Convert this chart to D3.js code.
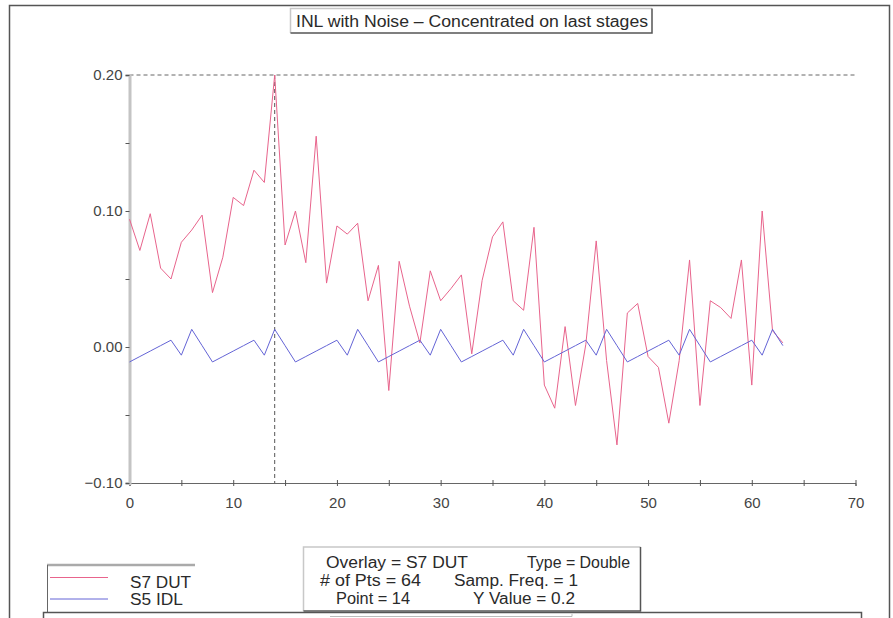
<!DOCTYPE html>
<html>
<head>
<meta charset="utf-8">
<script src="https://cdn.jsdelivr.net/npm/d3@7"></script>
<style>
  body { margin: 0; background: #fff; }
  svg { display: block; font-family: "Liberation Sans", Arial, sans-serif; }
</style>
</head>
<body>
<script>
// INL with noise, two overlaid traces (64 points each)
const pointIndex = d3.range(64);

const s7Dut = [
  0.094, 0.071, 0.098, 0.058, 0.050, 0.077, 0.086, 0.097,
  0.040, 0.066, 0.110, 0.104, 0.130, 0.121, 0.200, 0.075,
  0.100, 0.062, 0.155, 0.047, 0.089, 0.083, 0.091, 0.034,
  0.060, -0.032, 0.063, 0.030, 0.003, 0.056, 0.034, 0.043,
  0.053, -0.005, 0.049, 0.081, 0.092, 0.034, 0.027, 0.088,
  -0.028, -0.045, 0.015, -0.043, 0.002, 0.078, -0.010, -0.072,
  0.025, 0.032, -0.007, -0.015, -0.056, -0.010, 0.064, -0.043,
  0.034, 0.029, 0.021, 0.064, -0.028, 0.100, 0.012, 0.003
];

const s5Idl = [
  -0.011, -0.007, -0.003, 0.001, 0.005, -0.006, 0.013, 0.001,
  -0.011, -0.007, -0.003, 0.001, 0.005, -0.006, 0.013, 0.001,
  -0.011, -0.007, -0.003, 0.001, 0.005, -0.006, 0.013, 0.001,
  -0.011, -0.007, -0.003, 0.001, 0.005, -0.006, 0.013, 0.001,
  -0.011, -0.007, -0.003, 0.001, 0.005, -0.006, 0.013, 0.001,
  -0.011, -0.007, -0.003, 0.001, 0.005, -0.006, 0.013, 0.001,
  -0.011, -0.007, -0.003, 0.001, 0.005, -0.006, 0.013, 0.001,
  -0.011, -0.007, -0.003, 0.001, 0.005, -0.006, 0.013, 0.001
];

const xTicks = d3.range(0, 71, 5);
const yTicks = [-0.1, -0.05, 0, 0.05, 0.1, 0.15, 0.2];
const seriesNames = ["S7 DUT", "S5 IDL"];
const seriesColors = ["#e8648c", "#6464d6"];
const infoLeft = ["Overlay = S7 DUT", "# of Pts = 64", "Point = 14"];
const infoRight = ["Type = Double", "Samp. Freq. = 1", "Y Value = 0.2"];
const cursorX = 14, cursorY = 0.2;
const title = "INL with Noise \u2013 Concentrated on last stages";

const width = 893, height = 618;

const svg = d3.select("body").append("svg")
    .attr("width", width)
    .attr("height", height);

// outer frame
svg.append("rect")
    .attr("x", 9.5).attr("y", 5.5)
    .attr("width", 880).attr("height", 640)
    .attr("fill", "none").attr("stroke", "#555").attr("stroke-width", 1.5);

const x = d3.scaleLinear().domain([0, 70]).range([129.5, 855.5]);
const y = d3.scaleLinear().domain([-0.1, 0.2]).range([483, 75]);

// cursor lines
svg.append("line")
    .attr("x1", x(0)).attr("x2", x(70))
    .attr("y1", y(cursorY)).attr("y2", y(cursorY))
    .attr("stroke", "#666").attr("stroke-dasharray", "4,3");
svg.append("line")
    .attr("x1", x(cursorX)).attr("x2", x(cursorX))
    .attr("y1", y(0.2)).attr("y2", y(-0.1))
    .attr("stroke", "#555").attr("stroke-dasharray", "4,3");

// x axis: ticks crossing the line, labels every 10
const xAxis = svg.append("g")
    .attr("transform", `translate(0,${y(-0.1)})`)
    .call(d3.axisBottom(x).tickValues(xTicks).tickSize(3).tickPadding(11)
        .tickFormat(d => d % 10 === 0 ? d : ""));
svg.append("g")
    .attr("transform", `translate(0,${y(-0.1)})`)
    .call(d3.axisTop(x).tickValues(xTicks).tickSize(3).tickFormat(""))
    .select(".domain").remove();

// y axis
const yAxis = svg.append("g")
    .attr("transform", `translate(${x(0)},0)`)
    .call(d3.axisLeft(y).tickValues(yTicks).tickSize(4).tickPadding(3)
        .tickFormat(d => Math.abs(d * 100) % 10 < 1e-6 ? d3.format(".2f")(d) : ""));
yAxis.select(".domain").attr("stroke", "#c4c4c4").attr("stroke-width", 3);

svg.selectAll(".tick line").attr("stroke", "#555");
xAxis.select(".domain").attr("stroke", "#666");
svg.selectAll(".tick text")
    .attr("fill", "#444")
    .style("font-size", "15px");

// traces
const line = d3.line()
    .x((d, i) => x(pointIndex[i]))
    .y(d => y(d));

[s7Dut, s5Idl].forEach((vals, k) => {
  svg.append("path")
      .datum(vals)
      .attr("d", line)
      .attr("fill", "none")
      .attr("stroke", seriesColors[k])
      .attr("stroke-width", 1)
      .attr("stroke-linejoin", "miter");
});

// 3d-looking box helper
function box(x0, y0, x1, y1) {
  const g = svg.append("g");
  g.append("rect").attr("x", x0).attr("y", y0)
      .attr("width", x1 - x0).attr("height", y1 - y0).attr("fill", "#fff");
  g.append("path").attr("d", `M${x0},${y1}V${y0}H${x1}`)
      .attr("fill", "none").attr("stroke", "#c8c8c8").attr("stroke-width", 1.5);
  g.append("path").attr("d", `M${x0},${y1}H${x1}V${y0}`)
      .attr("fill", "none").attr("stroke", "#555").attr("stroke-width", 1.5);
  return g;
}

function label(tx, ty, str, len) {
  return svg.append("text")
      .attr("x", tx).attr("y", ty)
      .attr("textLength", len)
      .attr("lengthAdjust", "spacingAndGlyphs")
      .attr("fill", "#2a2a2a")
      .style("font-size", "16px")
      .text(str);
}

// title
box(290.5, 8.5, 652, 33);
label(296, 27, title, 352);

// legend box
const leg = svg.append("g");
leg.append("line").attr("x1", 47).attr("x2", 195).attr("y1", 565).attr("y2", 565)
    .attr("stroke", "#aaa").attr("stroke-width", 2.5);
leg.append("line").attr("x1", 47.5).attr("x2", 47.5).attr("y1", 565).attr("y2", 618)
    .attr("stroke", "#666");
const legLineY = [577.5, 599];
const legTextY = [588, 605];
const legTextW = [61, 53];
seriesNames.forEach((name, k) => {
  leg.append("line").attr("x1", 50).attr("x2", 108)
      .attr("y1", legLineY[k]).attr("y2", legLineY[k])
      .attr("stroke", seriesColors[k]);
  label(130, legTextY[k], name, legTextW[k]);
});

// info box
box(303.5, 547, 640.5, 611);
const rowY = [568, 586, 604];
const leftX = [326, 320, 336], leftW = [142, 101, 74];
const rightX = [527, 454, 473], rightW = [103, 124, 102];
infoLeft.forEach((t, k) => {
  label(leftX[k], rowY[k], t, leftW[k]);
  label(rightX[k], rowY[k], infoRight[k], rightW[k]);
});

// lower overlapping panel edge
svg.append("path")
    .attr("d", "M43.5,618V612.5H861.5V618")
    .attr("fill", "#fff").attr("stroke", "#555").attr("stroke-width", 1.5);
svg.append("path")
    .attr("d", "M330,616.5H572V614")
    .attr("fill", "none").attr("stroke", "#bbb").attr("stroke-width", 1);
</script>
</body>
</html>
